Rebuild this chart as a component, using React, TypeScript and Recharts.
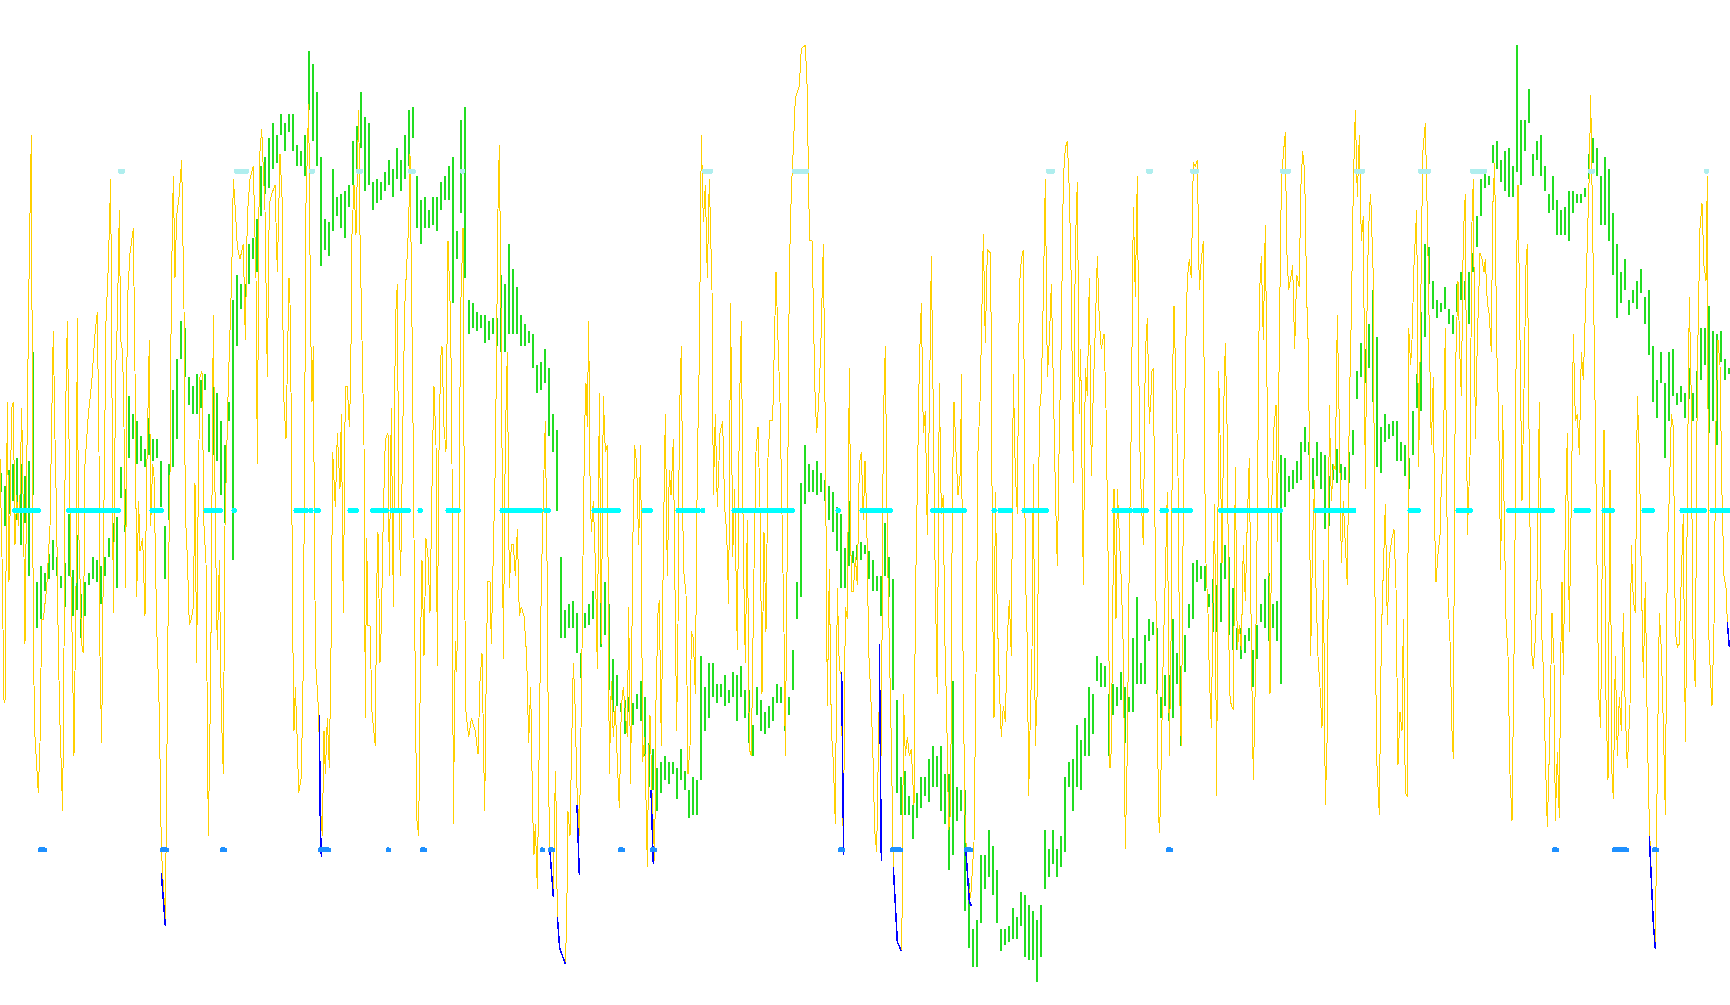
import { ComposedChart, Line, XAxis, YAxis } from "recharts";

// readings are in sample units (three per screen pixel across), split in six stretches
const STRETCH = 864;
const UPPER_LEVEL = 228;
const MIDDLE_LEVEL = 775;
const LOWER_LEVEL = 1322;

const yellow1 = [[0,690],[6,850],[12,1080],[15,1085],[22,600],[27,890],[35,610],[40,600],[45,830],[50,750],[55,800],[60,750],[65,610],[72,850],[75,990],[82,620],[88,360],[94,170],[100,1000],[105,1140],[115,1230],[120,1150],[125,950],[130,950],[140,900],[150,800],[157,570],[160,485],[165,660],[170,790],[175,1000],[180,1120],[188,1260],[192,1000],[196,640],[202,470],[206,620],[212,850],[217,1000],[222,1170],[228,900],[232,465],[235,780],[245,990],[250,1005],[255,700],[265,620],[275,570],[285,490],[292,455],[297,680],[300,1010],[305,1150],[310,860],[318,470],[325,380],[332,240],[340,940],[347,550],[352,470],[358,290],[362,500],[368,520],[372,640],[377,900],[382,440],[390,360],[400,320],[405,550],[410,915],[416,760],[420,840],[428,820],[435,945],[440,720],[448,500],[452,800],[458,700],[462,720],[470,960],[478,1100],[484,1320],[496,1440],[500,1220],[505,900],[510,720],[514,420],[520,235],[525,400],[530,300],[537,270],[545,210],[552,450],[556,780],[562,850],[568,960],[574,950],[580,930],[585,730],[590,1020],[595,730],[600,560],[606,550],[612,800],[618,860],[625,1300],[632,1050],[640,460],[646,800],[652,1000],[658,855],[664,1100],[670,1200],[675,800],[685,570],[695,400],[700,240],[706,290],[712,350],[720,370],[730,345],[736,500],[742,300],[750,240],[760,220],[768,400],[772,700],[778,210],[785,160],[795,290],[802,560],[808,280],[815,265],[825,250],[832,390],[840,200],[847,280],[850,580],[858,660]];
const yellow2 = [[3,400],[6,440],[10,630],[14,960],[18,1130],[22,1060],[28,1150],[32,1230],[40,1205],[46,1020],[50,650],[54,280],[62,120],[68,480],[72,600],[76,510],[80,880],[84,1030],[92,1100],[97,1250],[103,1300],[108,1130],[112,1200],[118,1110],[124,1190],[130,960],[134,680],[142,770],[148,650],[156,740],[160,620],[166,940],[172,575],[178,575],[184,640],[188,570],[192,330],[198,250],[204,330],[212,130],[216,330],[222,500],[228,670],[232,1110],[236,820],[240,960],[246,960],[252,1100],[262,1155],[266,900],[270,810],[276,1020],[280,960],[286,780],[292,660],[300,650],[304,880],[310,610],[316,930],[322,470],[328,410],[332,750],[338,880],[344,660],[350,450],[356,380],[362,315],[366,200],[374,570],[378,820],[382,1060],[386,1270],[392,1300],[398,980],[402,855],[408,1010],[414,820],[420,850],[426,940],[434,670],[438,575],[444,670],[448,1025],[452,710],[458,530],[462,510],[468,640],[474,680],[480,340],[488,470],[492,700],[496,1280],[502,985],[506,1035],[512,840],[518,450],[525,320],[530,900],[534,1100],[542,1140],[550,1110],[562,1130],[570,1168],[576,1050],[582,1005],[590,1260],[596,980],[600,890],[606,890],[610,990],[616,840],[622,700],[630,290],[634,185],[640,500],[646,1015],[652,660],[658,520],[664,900],[670,830],[676,830],[682,880],[688,805],[694,945],[700,930],[708,945],[716,1010],[722,1150],[728,1060],[734,1260],[738,1330],[742,1280],[748,1385],[760,890],[768,710],[772,630],[778,900],[782,1230],[786,1320],[796,1395],[800,1250],[803,1195],[808,1430],[815,1480],[832,1506],[836,1440],[840,1260],[846,1300],[850,1180],[856,1020],[862,1100]];
const yellow3 = [[2,1210],[10,1300],[14,1170],[18,1000],[22,800],[26,640],[30,570],[34,640],[38,470],[42,720],[46,810],[52,760],[58,860],[64,1030],[70,585],[76,990],[82,590],[88,680],[94,670],[100,1200],[106,1050],[112,1140],[118,1090],[124,1180],[130,1255],[136,1090],[142,1060],[148,1100],[154,1140],[158,930],[164,1215],[170,840],[176,670],[182,700],[188,830],[194,670],[200,1180],[206,1140],[212,1290],[214,1350],[218,1170],[222,1105],[228,1230],[236,1340],[240,1080],[246,940],[250,920],[256,1155],[262,835],[268,620],[274,880],[280,710],[285,750],[292,660],[298,950],[302,1130],[306,960],[310,630],[316,510],[322,865],[330,910],[336,1200],[342,1155],[346,970],[352,980],[358,1070],[364,700],[370,530],[376,170],[382,310],[388,250],[394,400],[400,240],[408,420],[412,750],[418,620],[424,770],[432,650],[440,630],[446,770],[452,810],[458,925],[464,440],[470,850],[476,740],[484,1000],[490,620],[496,470],[502,840],[508,1020],[514,790],[520,1160],[526,1170],[534,870],[540,680],[546,640],[552,770],[558,1070],[564,810],[570,970],[576,690],[582,630],[590,630],[600,390],[606,500],[612,600],[618,780],[624,970],[628,1170],[634,820],[640,390],[646,260],[652,190],[658,110],[664,100],[670,90],[676,30],[688,25],[694,100],[698,270],[702,340],[708,340],[712,440],[716,570],[722,650],[728,600],[734,520],[742,345],[748,650],[754,1090],[760,870],[766,1130],[772,1180],[778,1280],[784,900],[790,1030],[796,1040],[802,1330],[808,930],[814,950],[820,545],[826,905],[832,905],[838,850],[844,895],[850,700],[856,680],[862,790]];
const yellow4 = [[3,695],[8,780],[14,1000],[20,1070],[26,1150],[32,1290],[38,1325],[46,1070],[52,1170],[58,630],[64,510],[70,830],[76,990],[82,1150],[88,1350],[100,1470],[112,1485],[116,1380],[118,1070],[124,1170],[130,1140],[136,1170],[142,1160],[150,1250],[154,930],[160,735],[166,540],[172,440],[178,650],[184,615],[190,815],[196,620],[202,365],[208,620],[214,900],[220,1070],[226,570],[232,780],[238,750],[242,970],[248,1100],[254,1290],[260,1260],[265,750],[270,600],[276,680],[282,750],[290,710],[292,555],[296,950],[302,1250],[310,1370],[320,1400],[330,1310],[336,1040],[342,680],[348,600],[352,500],[358,330],[364,505],[370,355],[380,360],[386,920],[390,1110],[394,745],[400,940],[406,1060],[412,1140],[418,1090],[424,1115],[430,980],[436,920],[442,1010],[448,555],[454,715],[460,780],[466,415],[472,370],[478,355],[484,870],[490,990],[494,1235],[498,1130],[504,1000],[508,700],[514,1155],[520,1060],[526,620],[532,580],[538,430],[544,240],[550,560],[556,500],[562,410],[568,570],[574,740],[580,865],[586,650],[592,490],[598,240],[604,190],[610,180],[616,260],[622,410],[628,730],[634,350],[640,245],[646,620],[650,515],[658,895],[664,545],[670,590],[676,400],[682,720],[688,580],[694,480],[700,365],[706,470],[712,515],[720,490],[726,610],[732,840],[738,1190],[742,1160],[750,740],[756,950],[760,740],[772,890],[778,1000],[784,1320],[790,1160],[796,840],[802,630],[808,285],[814,430],[820,235],[826,640],[832,760],[838,830],[844,520],[850,465],[856,635],[862,580]];
const yellow5 = [[0,550],[4,545],[8,760],[12,920],[16,1110],[20,1270],[23,1295],[28,1170],[34,1000],[40,880],[46,745],[52,1170],[58,950],[62,550],[66,445],[72,580],[78,720],[84,1090],[88,1155],[94,770],[100,540],[106,400],[112,370],[118,400],[124,215],[130,220],[136,210],[142,420],[148,370],[154,340],[158,710],[162,860],[168,940],[172,1040],[178,1125],[184,885],[188,765],[194,1235],[200,550],[204,650],[210,860],[216,590],[220,505],[226,660],[232,1065],[238,1090],[244,1095],[250,705],[256,1000],[262,960],[268,1000],[274,830],[280,920],[286,790],[292,690],[298,990],[304,1210],[310,1050],[316,780],[322,430],[328,365],[334,500],[340,315],[346,625],[350,815],[354,1070],[360,750],[366,640],[372,605],[376,825],[382,500],[388,250],[394,200],[400,165],[404,350],[410,420],[416,400],[422,380],[428,515],[434,395],[442,415],[446,260],[452,195],[458,230],[464,430],[470,530],[476,1010],[482,825],[488,725],[492,900],[498,1010],[504,1060],[510,1125],[514,855],[520,1250],[526,1130],[532,605],[538,760],[544,700],[550,710],[556,460],[562,640],[568,860],[574,760],[580,830],[586,895],[592,610],[598,460],[604,250],[610,130],[616,270],[622,170],[628,340],[634,300],[640,740],[646,400],[652,290],[656,265],[664,400],[668,860],[674,1175],[682,1265],[688,980],[694,870],[700,765],[706,960],[712,850],[720,820],[726,805],[732,900],[738,1185],[744,1100],[750,1130],[754,950],[760,1230],[766,1235],[770,480],[776,540],[780,500],[786,380],[794,290],[800,705],[806,455],[812,200],[820,150],[826,300],[832,490],[838,670],[844,560],[848,800],[852,890],[858,845]];
const yellow6 = [[0,815],[4,735],[10,680],[16,480],[20,740],[24,915],[30,985],[36,1130],[40,1175],[44,700],[48,520],[54,405],[60,530],[64,590],[70,330],[76,265],[82,815],[90,690],[96,310],[100,240],[106,660],[112,500],[120,360],[126,370],[132,390],[136,370],[142,440],[148,460],[154,520],[158,290],[164,215],[170,510],[176,620],[182,870],[188,605],[192,760],[198,950],[204,1010],[210,1200],[216,1275],[224,920],[230,370],[234,250],[240,500],[246,760],[252,580],[258,380],[262,345],[268,700],[274,1000],[280,1030],[286,980],[292,870],[298,600],[304,960],[310,1030],[316,1170],[322,1285],[328,1165],[336,940],[342,1020],[346,1275],[352,1165],[358,1270],[362,1020],[366,890],[370,1040],[376,800],[382,650],[388,970],[396,680],[400,490],[406,630],[412,620],[418,685],[424,520],[430,565],[436,455],[440,380],[448,230],[452,105],[458,320],[464,550],[470,820],[476,1070],[482,1125],[488,770],[492,645],[498,1080],[504,1210],[510,710],[516,1200],[520,1240],[526,1010],[532,1170],[538,1075],[544,1130],[550,940],[556,1100],[562,1190],[570,1090],[574,830],[580,920],[586,940],[592,590],[598,680],[604,880],[610,1045],[616,890],[622,1130],[628,1280],[640,1440],[646,1482],[652,1185],[658,940],[664,1000],[670,1120],[676,1265],[682,840],[688,750],[694,620],[700,640],[706,970],[712,995],[718,990],[724,880],[730,780],[734,1050],[737,1148],[742,740],[748,430],[754,600],[758,970],[766,1060],[772,550],[780,320],[786,280],[792,380],[798,405],[802,235],[806,970],[812,1050],[816,1090],[822,960],[828,630],[834,500],[840,540],[846,750],[852,880],[858,900],[862,955],[868,995]];

// green bars, top and bottom reading, one pair every 12 samples from sample 3 of each stretch
const green1 = [[715,745],[735,800],[710,780],[700,760],[690,790],[700,830],[720,795],[695,880],[520,750],[890,965],[865,950],[875,905],[845,885],[822,870],[850,880],[880,900],[860,930],[780,880],[870,945],[815,935],[910,980],[890,945],[875,895],[850,885],[855,890],[865,925],[850,880],[820,850],[795,840],[785,900],[705,755],[740,810],[590,690],[620,660],[630,700],[655,695],[675,705],[625,685],[660,695],[660,690],[695,770],[800,885],[700,790],[580,705],[530,660],[470,530],[480,560],[560,605],[575,620],[555,620],[565,610],[555,580],[620,680],[550,685],[585,695],[630,750],[670,795],[600,630],[435,855],[395,510],[410,450],[410,450],[345,410],[335,370],[305,390],[220,300],[205,265],[175,255],[150,225],[170,215],[135,170],[150,195]];
const green2 = [[135,165],[135,195],[185,220],[195,220],[170,235],[35,130],[55,180],[100,220],[205,380],[305,355],[310,365],[225,325],[270,300],[265,320],[260,335],[250,285],[180,250],[155,230],[100,190],[140,260],[150,250],[245,290],[240,280],[245,275],[230,260],[210,250],[225,270],[190,240],[210,260],[170,240],[130,220],[125,175],[235,320],[275,345],[270,320],[290,320],[270,315],[270,325],[245,290],[235,275],[220,275],[205,440],[325,370],[145,295],[125,400],[435,490],[440,480],[455,485],[460,480],[460,505],[470,500],[465,490],[465,510],[395,520],[410,520],[345,490],[385,490],[415,490],[460,510],[475,510],[485,505],[490,545],[540,585],[535,580],[515,570],[545,655],[620,680],[645,775],[850,980],[935,980],[925,965],[920,965]];
const green3 = [[940,1005],[1005,1045],[940,965],[925,960],[905,950],[930,985],[885,995],[890,975],[925,1065],[1015,1100],[1040,1090],[1085,1100],[1080,1135],[1075,1100],[1085,1120],[1070,1095],[1050,1115],[1075,1170],[1150,1220],[1160,1225],[1190,1260],[1180,1230],[1170,1210],[1180,1215],[1180,1200],[1190,1240],[1160,1210],[1195,1225],[1225,1270],[1205,1265],[1210,1265],[1010,1210],[1060,1130],[1020,1110],[1020,1075],[1055,1085],[1055,1075],[1040,1090],[1065,1085],[1035,1075],[1040,1115],[1025,1075],[1065,1110],[1065,1150],[1120,1170],[1060,1105],[1080,1130],[1100,1135],[1090,1125],[1075,1115],[1055,1085],[1060,1085],[1085,1130],[1075,1105],[1000,1065],[890,950],[730,915],[670,765],[700,745],[710,745],[695,750],[715,745],[725,760],[735,790],[745,810],[770,840],[780,900],[835,900],[760,865],[840,860],[830,855],[825,855]];
const green4 = [[830,845],[840,885],[855,905],[880,905],[880,945],[795,880],[850,915],[885,1065],[1080,1230],[1205,1265],[1195,1265],[1235,1265],[1250,1305],[1230,1270],[1205,1255],[1205,1235],[1175,1245],[1155,1220],[1170,1220],[1155,1260],[1200,1280],[1200,1355],[1050,1330],[1220,1275],[1225,1260],[1225,1420],[1375,1480],[1450,1510],[1435,1510],[1330,1440],[1330,1385],[1290,1365],[1315,1395],[1355,1440],[1450,1485],[1450,1475],[1445,1470],[1415,1465],[1430,1465],[1390,1445],[1395,1495],[1410,1500],[1420,1500],[1435,1535],[1410,1495],[1290,1385],[1320,1365],[1290,1345],[1320,1365],[1300,1350],[1205,1325],[1180,1220],[1175,1260],[1120,1220],[1145,1225],[1110,1170],[1060,1170],[1070,1135],[1010,1050],[1020,1060],[1025,1060],[1070,1170],[1055,1105],[1060,1090],[1035,1080],[1060,1150],[1075,1100],[980,1100],[915,1055],[1020,1055],[975,1055],[950,985]];
const green5 = [[955,975],[965,1070],[1075,1110],[1040,1090],[1040,1115],[950,1110],[1005,1055],[1025,1155],[975,1035],[925,965],[860,950],[855,890],[865,885],[865,905],[910,930],[885,970],[895,970],[860,955],[830,885],[850,975],[900,1000],[965,1000],[965,1015],[975,1005],[965,985],[1000,1060],[960,1015],[925,955],[885,965],[875,985],[925,965],[920,985],[685,1055],[690,770],[720,745],[710,740],[695,730],[665,725],[640,680],[665,685],[690,740],[665,720],[680,740],[685,805],[720,800],[700,725],[675,730],[700,725],[705,725],[680,730],[645,685],[550,595],[505,560],[515,570],[475,545],[420,600],[495,705],[640,715],[620,665],[635,660],[630,655],[630,695],[665,695],[670,720],[690,740],[615,685],[555,610],[455,615],[345,495],[350,410],[405,450],[435,465]];
const green6 = [[440,455],[415,450],[450,475],[460,490],[410,455],[390,435],[405,435],[390,475],[360,390],[300,350],[240,300],[232,255],[235,250],[185,215],[180,225],[210,245],[195,260],[190,270],[220,270],[25,230],[145,250],[145,195],[95,150],[200,235],[180,210],[170,235],[220,260],[265,295],[235,290],[275,330],[290,330],[285,330],[260,340],[260,295],[265,280],[265,280],[255,270],[200,240],[175,215],[190,235],[235,315],[205,315],[225,340],[295,395],[345,465],[390,440],[370,420],[435,460],[420,440],[405,450],[385,425],[430,475],[420,525],[510,600],[565,625],[520,570],[570,690],[520,630],[515,590],[585,605],[575,600],[585,625],[545,595],[585,630],[550,625],[480,565],[480,540],[445,650],[485,630],[490,670],[485,535],[530,565],[545,555]];

// blue stretches where the yellow line runs below its lower band
const blueRuns = [
  [[484,1360],[496,1445]],
  [[958,1105],[961,1280],[964,1333]],
  [[1650,1325],[1660,1398]],
  [[1672,1430],[1679,1480],[1696,1506]],
  [[1731,1250],[1738,1362]],
  [[1953,1225],[1960,1345]],
  [[2525,1035],[2531,1330]],
  [[2638,990],[2644,1340]],
  [[2680,1350],[2692,1470],[2704,1485]],
  [[2898,1325],[2908,1405],[2914,1412]],
  [[4948,1300],[4960,1440],[4966,1482]],
  [[5182,955],[5188,995]],
];

// dot runs per stretch, start and end sample
const cyanRuns = [
  [[37,122],[199,362],[450,490],[612,668],[696,710]],
  [[18,60],[62,74],[78,98],[180,212],[247,302],[306,368],[390,404],[474,518],[636,764],[768,788]],
  [[48,134],[198,230],[300,374],[374,386],[468,656],[780,794],[852,864]],
  [[0,86],[199,308],[384,398],[402,446],[474,554],[744,804],[806,854]],
  [[24,50],[60,122],[199,392],[486,612],[768,806]],
  [[48,98],[199,344],[402,452],[486,524],[606,644],[720,800],[810,870]],
];
const paleRuns = [
  [[354,375],[702,747]],
  [[64,80],[204,224],[360,382],[516,530]],
  [[378,410],[648,698]],
  [[546,572],[846,866]],
  [[114,140],[384,416],[606,638],[798,836]],
  [[90,140],[444,464],[792,806]],
];
const dodgerRuns = [
  [[114,140],[480,506],[660,680]],
  [[90,128],[294,308],[396,416],[756,770],[780,800]],
  [[126,146],[222,242],[786,806]],
  [[78,116],[300,326]],
  [[42,62]],
  [[336,356],[516,566],[636,656]],
];

const yellowRows = [yellow1, yellow2, yellow3, yellow4, yellow5, yellow6].flatMap((part, i) =>
  part.map(([x, v]) => ({ x: x + i * STRETCH, v }))
);

// each green bar is a top to bottom stroke, broken off from the next one
const greenRows = [green1, green2, green3, green4, green5, green6].flatMap((part, i) =>
  part.flatMap(([top, bottom], n) => {
    const x = i * STRETCH + 3 + n * 12;
    return [
      { x, v: top },
      { x, v: bottom },
      { x: x + 1, v: null },
    ];
  })
);

const blueRows = blueRuns.flatMap((run) => [
  ...run.map(([x, v]) => ({ x, v })),
  { x: run[run.length - 1][0] + 1, v: null },
]);

const levelRows = (runs: number[][][], level: number) =>
  runs.flatMap((part, i) =>
    part.flatMap(([a, b]) => {
      const start = i * STRETCH + a + 6;
      const end = Math.max(start + 1, i * STRETCH + b - 6);
      return [
        { x: start, v: level },
        { x: end, v: level },
        { x: end + 1, v: null },
      ];
    })
  );

const thin = { dot: false, activeDot: false, isAnimationActive: false, shapeRendering: "crispEdges" };

export default function App() {
  return (
    <div style={{ position: "absolute", left: 0, top: 0, width: 1730, height: 1005, background: "#fff" }}>
      <ComposedChart width={1730} height={1005} margin={{ top: 0, right: 0, bottom: 0, left: 0 }}>
        <XAxis dataKey="x" type="number" domain={[0, 5190]} hide />
        <YAxis type="number" domain={[-48, 1572]} reversed hide />
        <Line data={greenRows} dataKey="v" stroke="#22dd22" strokeWidth={2} strokeLinecap="butt" {...thin} />
        <Line data={yellowRows} dataKey="v" stroke="#ffd000" strokeWidth={1} {...thin} />
        <Line data={blueRows} dataKey="v" stroke="#0000ff" strokeWidth={1.5} {...thin} />
        <Line data={levelRows(cyanRuns, MIDDLE_LEVEL)} dataKey="v" stroke="#00ffff" strokeWidth={5} strokeLinecap="round" {...thin} />
        <Line data={levelRows(paleRuns, UPPER_LEVEL)} dataKey="v" stroke="#afeeee" strokeWidth={5} strokeLinecap="round" {...thin} />
        <Line data={levelRows(dodgerRuns, LOWER_LEVEL)} dataKey="v" stroke="#1e90ff" strokeWidth={5} strokeLinecap="round" {...thin} />
      </ComposedChart>
    </div>
  );
}
